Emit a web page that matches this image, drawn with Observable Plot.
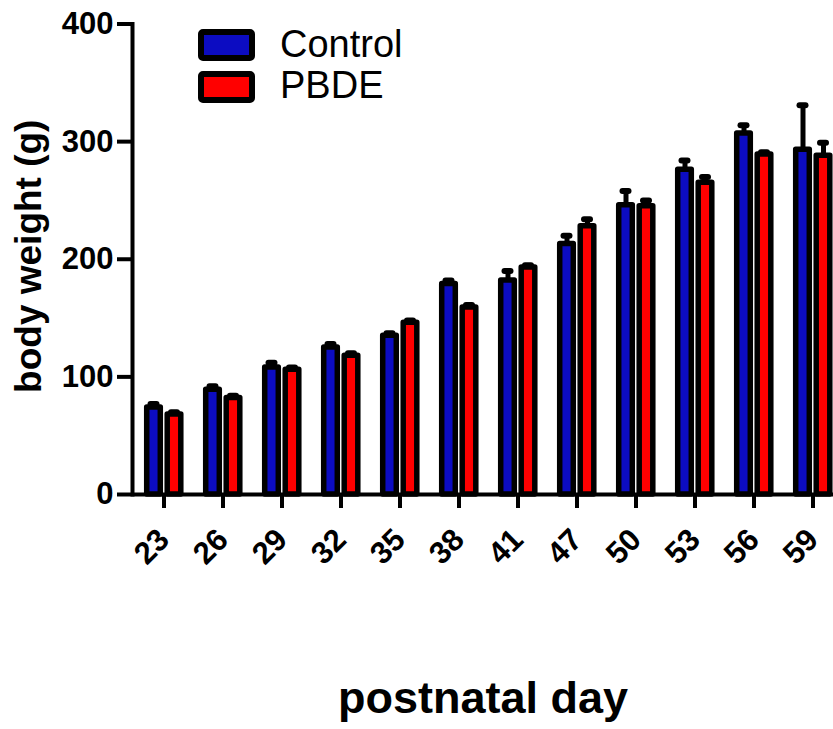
<!DOCTYPE html>
<html><head><meta charset="utf-8">
<script src="https://cdn.jsdelivr.net/npm/d3@7"></script>
<script src="https://cdn.jsdelivr.net/npm/@observablehq/plot@0.6"></script>
<style>
html,body{margin:0;padding:0;background:#fff;overflow:hidden;width:833px;height:729px}
#wrap{position:relative;width:833px;height:729px;font-family:"Liberation Sans",Arial,sans-serif}
.sw{position:absolute;left:198px;width:57px;height:32px;box-sizing:border-box;border:6px solid #000;border-radius:5px}
.lt{position:absolute;left:280px;font-size:38px;line-height:38px;color:#000;white-space:nowrap}
</style></head>
<body><div id="wrap"></div>
<script>
const days = ["23","26","29","32","35","38","41","47","50","53","56","59"];
const controlMean = [74, 89, 108, 125, 135, 179, 182, 213, 246, 276, 307, 293];
const controlSem  = [3, 3, 4, 3, 2, 3, 8, 7, 12, 8, 7, 38];
const pbdeMean    = [68, 82, 106, 118, 146, 159, 193, 228, 245, 265, 289, 288];
const pbdeSem     = [2, 2, 2, 2, 2, 2, 2, 6, 5, 5, 2, 11];
const groups = ["Control", "PBDE"];
const colors = ["#0c0cc2", "#ff0000"];
const yTicks = [0, 100, 200, 300, 400];
const xTitle = "postnatal day";
const yTitle = "body weight (g)";

const ctrl = days.map((d, i) => ({day: d, mean: controlMean[i], top: controlMean[i] + controlSem[i]}));
const pbde = days.map((d, i) => ({day: d, mean: pbdeMean[i], top: pbdeMean[i] + pbdeSem[i]}));

const font = "Liberation Sans, Arial, sans-serif";
const plot = Plot.plot({
  width: 833,
  height: 729,
  marginLeft: 132,
  marginRight: 0,
  marginTop: 23.5,
  marginBottom: 235,
  style: {fontFamily: font, background: "#fff", color: "#000", overflow: "visible"},
  x: {domain: days, range: [132, 844.8], padding: 0},
  y: {domain: [0, 400], range: [494, 23.5]},
  marks: [
    Plot.ruleX(ctrl, {x: "day", y1: "mean", y2: "top", dx: -10, stroke: "#000", strokeWidth: 5}),
    Plot.ruleX(pbde, {x: "day", y1: "mean", y2: "top", dx: 10.5, stroke: "#000", strokeWidth: 5}),
    Plot.tickY(ctrl, {x: "day", y: "top", insetLeft: 16.5, insetRight: 36.5, stroke: "#000", strokeWidth: 6, strokeLinecap: "round"}),
    Plot.tickY(pbde, {x: "day", y: "top", insetLeft: 37, insetRight: 16, stroke: "#000", strokeWidth: 6, strokeLinecap: "round"}),
    Plot.barY(ctrl, {x: "day", y: "mean", insetLeft: 12.7, insetRight: 32.7, fill: colors[0], stroke: "#000", strokeWidth: 5.5, strokeLinejoin: "round"}),
    Plot.barY(pbde, {x: "day", y: "mean", insetLeft: 33.2, insetRight: 12.2, fill: colors[1], stroke: "#000", strokeWidth: 5.5, strokeLinejoin: "round"}),
    Plot.ruleY([0], {stroke: "#000", strokeWidth: 4}),
    Plot.frame({anchor: "left", stroke: "#000", strokeWidth: 4}),
    Plot.axisY({ticks: yTicks, tickSize: 15, tickPadding: 4, fontSize: 31, fontWeight: "bold", strokeWidth: 4, label: null}),
    Plot.axisX({tickSize: 14, tickPadding: 26, tickRotate: -45, fontSize: 31, fontWeight: "bold", strokeWidth: 4, label: null}),
    Plot.text([yTitle], {frameAnchor: "left", rotate: -90, dx: -103, dy: -3, textAnchor: "middle", lineAnchor: "middle", fontSize: 37, fontWeight: "bold", fill: "#000"}),
    Plot.text([xTitle], {frameAnchor: "bottom", dy: 218, textAnchor: "middle", lineAnchor: "bottom", fontSize: 45, fontWeight: "bold", fill: "#000"})
  ]
});
const wrap = document.getElementById("wrap");
wrap.appendChild(plot);

// legend
groups.forEach((g, i) => {
  const sw = document.createElement("div");
  sw.className = "sw";
  sw.style.top = (29 + 42 * i) + "px";
  sw.style.background = colors[i];
  wrap.appendChild(sw);
  const t = document.createElement("div");
  t.className = "lt";
  t.style.top = (24.5 + 41.3 * i) + "px";
  t.textContent = g;
  wrap.appendChild(t);
});
</script>
</body></html>
